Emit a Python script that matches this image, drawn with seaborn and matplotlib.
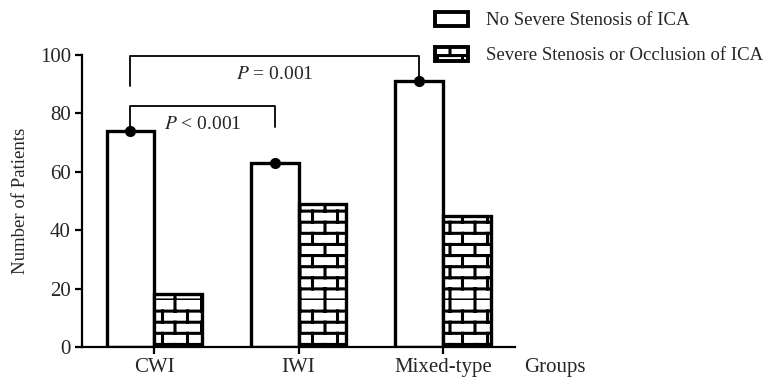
import warnings
import numpy as np
import pandas as pd
import seaborn as sns
import matplotlib
import matplotlib.pyplot as plt
from matplotlib import hatch as mhatch
from matplotlib.patches import Patch

warnings.filterwarnings("ignore")

groups = ["CWI", "IWI", "Mixed-type"]
no_severe = [74, 63, 91]
severe = [18, 49, 45]
series = ["No Severe Stenosis of ICA", "Severe Stenosis or Occlusion of ICA"]

# brackets: (left group, right group, height, left foot, right foot, label)
brackets = [
    (0, 1, 82.5, 74, 75.5, "< 0.001"),
    (0, 2, 99.6, 89.5, 91, "= 0.001"),
]


class BrickHatch(mhatch.HatchPatternBase):
    # brick wall pattern for the character 'b'
    def __init__(self, hatch, density):
        self.rows = 9 if "b" in hatch else 0
        self.cols = 4
        self.num_lines = self.rows * (1 + self.cols)
        self.num_vertices = self.num_lines * 2

    def set_vertices_and_codes(self, vertices, codes):
        segs = []
        for r in range(self.rows):
            y0 = r / self.rows
            y1 = (r + 1) / self.rows
            segs.append([(0, y0), (1, y0)])
            off = 0.5 / self.cols if r % 2 else 0.0
            for c in range(self.cols):
                x = c / self.cols + off
                segs.append([(x, y0), (x, y1)])
        vertices[:] = np.array(segs).reshape(-1, 2)
        codes[0::2] = matplotlib.path.Path.MOVETO
        codes[1::2] = matplotlib.path.Path.LINETO


mhatch._hatch_types.append(BrickHatch)

sns.set_style("ticks")
plt.rcParams["font.family"] = ["Liberation Serif", "DejaVu Serif"]
plt.rcParams["mathtext.fontset"] = "stix"
plt.rcParams["hatch.linewidth"] = 2.2
plt.rcParams["hatch.color"] = "black"

df = pd.DataFrame({
    "group": groups * 2,
    "count": no_severe + severe,
    "status": [series[0]] * 3 + [series[1]] * 3,
})

fig = plt.figure(figsize=(7.69, 3.80), dpi=100)
ax = fig.add_axes([0.1066, 0.0868, 0.5634, 0.7682])

sns.barplot(data=df, x="group", y="count", hue="status", hue_order=series,
            width=0.66, gap=0, color="white", edgecolor="black",
            linewidth=2.4, legend=False, ax=ax)

for i, bar in enumerate(ax.patches[:6]):
    bar.set_facecolor("white")
    bar.set_edgecolor("black")
    if i >= 3:
        bar.set_hatch("b")

# dots on top of the white bars
white_x = [p.get_x() + p.get_width() / 2 for p in ax.patches[:3]]
ax.plot(white_x, no_severe, "o", color="black", markersize=7, zorder=5)

for a, b, h, fa, fb, lab in brackets:
    xa, xb = white_x[a], white_x[b]
    ax.plot([xa, xa, xb, xb], [fa, h, h, fb], color="black", lw=1.3,
            clip_on=False, zorder=4)
    ax.text((xa + xb) / 2, h - 3.3, r"$P$ " + lab, ha="center", va="top",
            fontsize=14)

ax.set_xlim(-0.5, 2.5)
ax.set_ylim(0, 100)
ax.set_yticks([0, 20, 40, 60, 80, 100])
ax.set_ylabel("Number of Patients", fontsize=13.5, labelpad=8)
ax.set_xlabel("")
ax.tick_params(axis="both", labelsize=15, width=1.6, length=5, direction="out",
               color="black", pad=3)
for s in ["left", "bottom"]:
    ax.spines[s].set_linewidth(1.6)
    ax.spines[s].set_color("black")
sns.despine(ax=ax)

ax.text(1.02, -0.07, "Groups", transform=ax.transAxes, ha="left", va="center",
        fontsize=15)

handles = [Patch(facecolor="white", edgecolor="black", lw=2.8),
           Patch(facecolor="white", edgecolor="black", lw=2.8, hatch="b")]
fig.legend(handles, series, loc="upper left", bbox_to_anchor=(0.5657, 0.969),
           frameon=False, fontsize=13.5, handlelength=1.76, handleheight=0.75,
           labelspacing=0.95, handletextpad=0.95, borderpad=0,
           borderaxespad=0)

fig.savefig("out.png", dpi=100)
